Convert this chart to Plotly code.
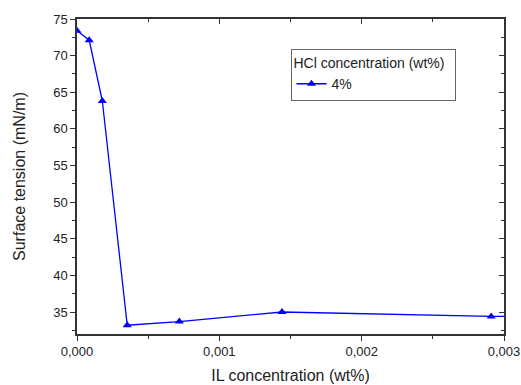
import plotly.graph_objects as go

# IL concentration (wt%) vs surface tension (mN/m), HCl 4 wt%
il_conc = [0.0, 0.000086, 0.000178, 0.000353, 0.000719, 0.00144, 0.00291, 0.0058]
surface_tension = [73.4, 72.1, 63.8, 33.2, 33.7, 35.0, 34.4, 34.2]

x_ticks = [0.0, 0.001, 0.002, 0.003]
x_ticklabels = ["0,000", "0,001", "0,002", "0,003"]

X_RANGE = [0.0, 0.003]
Y_RANGE = [32.0, 75.0]
BLUE = "#0000ff"
AXIS = "#333333"

fig = go.Figure()

fig.add_trace(go.Scatter(
    x=il_conc,
    y=surface_tension,
    mode="lines+markers",
    name="4%",
    line=dict(color=BLUE, width=1.3),
    marker=dict(symbol="triangle-up", size=8, color=BLUE),
))

# invisible trace to drive the mirrored top/right axes
fig.add_trace(go.Scatter(
    x=X_RANGE, y=Y_RANGE, xaxis="x2", yaxis="y2",
    mode="markers", marker=dict(opacity=0), showlegend=False, hoverinfo="skip",
))

font = "Liberation Sans, Arial, sans-serif"

fig.update_layout(
    width=521,
    height=385,
    paper_bgcolor="white",
    plot_bgcolor="white",
    separators=",.",
    font=dict(family=font, size=13, color="#222222"),
    margin=dict(l=77, r=17, t=19, b=51, autoexpand=False),
    showlegend=True,
    legend=dict(
        title=dict(text="HCl concentration (wt%)\u00a0\u00a0", font=dict(size=14)),
        x=0.50, y=0.905, xanchor="left", yanchor="top",
        bordercolor="#666666", borderwidth=1,
        bgcolor="white",
        font=dict(size=14),
        itemwidth=30,
    ),
    xaxis=dict(
        range=X_RANGE,
        automargin=False,
        tickmode="array",
        tickvals=x_ticks,
        ticktext=x_ticklabels,
        ticklabeloverflow="allow",
        ticks="outside",
        ticklen=5,
        tickwidth=1.2,
        tickcolor=AXIS,
        minor=dict(ticks="outside", dtick=0.0005, ticklen=3, tickcolor=AXIS),
        showline=True,
        linecolor=AXIS,
        linewidth=1.5,
        showgrid=False,
        zeroline=False,
        title=dict(text="IL concentration (wt%)", font=dict(size=16), standoff=11),
    ),
    yaxis=dict(
        range=Y_RANGE,
        automargin=False,
        dtick=5,
        tick0=0,
        ticks="outside",
        ticklen=5,
        tickwidth=1.2,
        tickcolor=AXIS,
        minor=dict(ticks="outside", dtick=2.5, ticklen=3, tickcolor=AXIS),
        showline=True,
        linecolor=AXIS,
        linewidth=1.5,
        showgrid=False,
        zeroline=False,
        title=dict(text="Surface tension (mN/m)", font=dict(size=16), standoff=24),
    ),
    xaxis2=dict(
        range=X_RANGE,
        automargin=False,
        overlaying="x",
        side="top",
        dtick=0.001,
        ticks="inside",
        ticklen=5,
        tickcolor=AXIS,
        minor=dict(ticks="inside", dtick=0.0005, ticklen=3, tickcolor=AXIS),
        showticklabels=False,
        showline=True,
        linecolor=AXIS,
        linewidth=1.5,
        showgrid=False,
        zeroline=False,
    ),
    yaxis2=dict(
        range=Y_RANGE,
        automargin=False,
        overlaying="y",
        side="right",
        dtick=5,
        tick0=0,
        ticks="inside",
        ticklen=5,
        tickcolor=AXIS,
        minor=dict(ticks="inside", dtick=2.5, ticklen=3, tickcolor=AXIS),
        showticklabels=False,
        showline=True,
        linecolor=AXIS,
        linewidth=1.5,
        showgrid=False,
        zeroline=False,
    ),
)

# drop the default body margin so the 521x385 figure fills the window exactly
fig.write_html(
    "out.html",
    config={"displayModeBar": False},
    post_script="document.body.style.margin='0';document.body.style.overflow='hidden';",
)
